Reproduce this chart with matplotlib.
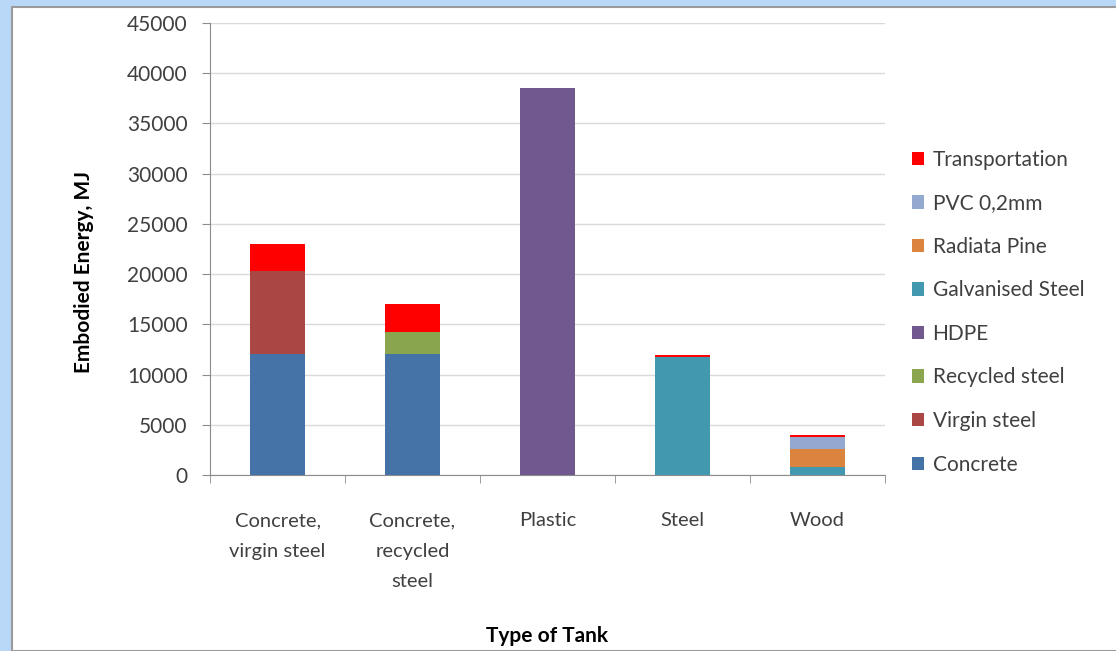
import matplotlib.pyplot as plt
import numpy as np
from matplotlib.patches import Rectangle

categories = ["Concrete,\nvirgin steel", "Concrete,\nrecycled\nsteel", "Plastic", "Steel", "Wood"]

# stacked components, bottom to top
concrete       = [12000, 12000, 0, 0, 0]
virgin_steel   = [8300, 0, 0, 0, 0]
recycled_steel = [0, 2250, 0, 0, 0]
hdpe           = [0, 0, 38550, 0, 0]
galv_steel     = [0, 0, 0, 11750, 780]
radiata_pine   = [0, 0, 0, 0, 1830]
pvc            = [0, 0, 0, 0, 1150]
transportation = [2700, 2780, 0, 150, 200]

series = [
    ("Concrete", concrete, "#4572A7"),
    ("Virgin steel", virgin_steel, "#AA4643"),
    ("Recycled steel", recycled_steel, "#89A54E"),
    ("HDPE", hdpe, "#71588F"),
    ("Galvanised Steel", galv_steel, "#4198AF"),
    ("Radiata Pine", radiata_pine, "#DB843D"),
    ("PVC 0,2mm", pvc, "#93A9CF"),
    ("Transportation", transportation, "#FF0000"),
]

plt.rcParams['font.family'] = ['Lato', 'DejaVu Sans']

fig = plt.figure(figsize=(11.16, 6.51), dpi=100, facecolor="#b9d8f7")
# white panel with thin grey edge
fig.patches.append(Rectangle((12 / 1116, 0), 1.0, 1 - 7 / 651, transform=fig.transFigure,
                             facecolor="white", edgecolor="#9a9a9a", linewidth=1.5, zorder=-1))

ax = fig.add_axes([210 / 1116, 1 - 475 / 651, 675 / 1116, (475 - 23) / 651])
ax.set_zorder(2)
ax.set_facecolor("none")

x = np.arange(len(categories))
bottom = np.zeros(len(categories))
handles = []
for name, vals, col in series:
    b = ax.bar(x, vals, 0.41, bottom=bottom, color=col, label=name, zorder=3)
    bottom += np.array(vals)
    handles.append(b)

ax.set_xlim(-0.5, len(categories) - 0.5)
ax.set_ylim(0, 45000)
ax.set_yticks(np.arange(0, 45001, 5000))
ax.yaxis.grid(True, color="#d9d9d9", linewidth=1, zorder=0)
ax.set_xticks(x)
ax.set_xticklabels(categories, fontsize=14.5, color="#404040", linespacing=1.95)
ax.set_xticks(np.arange(-0.5, len(categories)), minor=True)
ax.tick_params(axis="x", which="major", length=0, pad=27)
ax.tick_params(axis="x", which="minor", length=6, color="#8c8c8c")
ax.tick_params(axis="y", length=6, color="#8c8c8c", labelsize=15, labelcolor="#404040", pad=10)

for s in ["top", "right"]:
    ax.spines[s].set_visible(False)
for s in ["left", "bottom"]:
    ax.spines[s].set_color("#8c8c8c")

ax.set_ylabel("Embodied Energy, MJ", fontsize=15, fontweight="bold")
ax.yaxis.set_label_coords(-0.172, 0.45)
ax.set_xlabel("Type of Tank", fontsize=15, fontweight="bold")
ax.xaxis.set_label_coords(0.5, -0.334)

leg = fig.legend(handles[::-1], [h.get_label() for h in handles[::-1]],
                 loc="upper left", bbox_to_anchor=(893 / 1116, 1 - 131 / 651),
                 frameon=False, fontsize=15, labelcolor="#404040",
                 handlelength=0.6, handleheight=0.6, handletextpad=0.4, labelspacing=1.13)
leg.set_zorder(3)

fig.savefig("out.png", dpi=100, facecolor=fig.get_facecolor())
